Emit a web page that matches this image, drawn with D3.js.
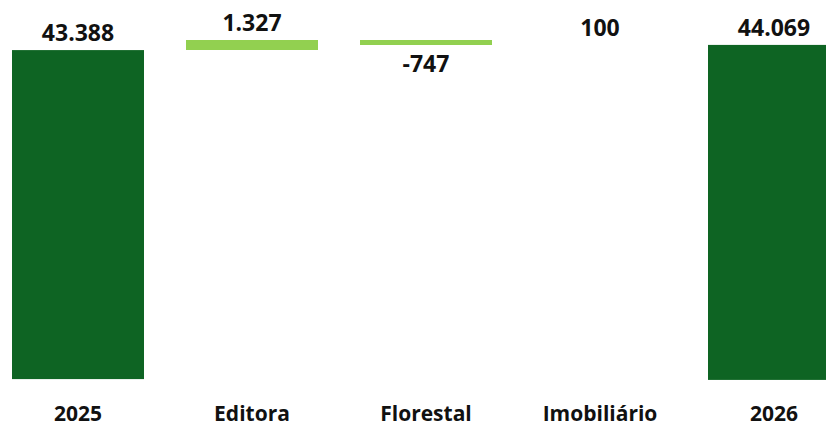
<!DOCTYPE html>
<html>
<head>
<meta charset="utf-8">
<script src="https://cdn.jsdelivr.net/npm/d3@7"></script>
<style>
  body { margin: 0; background: #fff; }
  text { font-family: "Open Sans", "Noto Sans", sans-serif; font-weight: 700; fill: #111; }
</style>
</head>
<body>
<div id="chart"></div>
<script>
// waterfall data
const categories = ['2025', 'Editora', 'Florestal', 'Imobiliário', '2026'];
const values = [43388, 1327, -747, 100, 44069];
const valueLabels = ['43.388', '1.327', '-747', '100', '44.069'];
const isTotal = [true, false, false, false, true];

const width = 826, height = 427;
const darkGreen = '#0e6423';
const lightGreen = '#92d050';

// build start/end of each step
let running = 0;
const steps = categories.map((c, i) => {
    let start, end;
    if (isTotal[i]) {
        start = 0; end = values[i]; running = values[i];
    } else {
        start = running; end = running + values[i]; running = end;
    }
    return { cat: c, start: start, end: end, value: values[i], label: valueLabels[i], total: isTotal[i] };
});

const svg = d3.select('#chart').append('svg')
    .attr('width', width)
    .attr('height', height);

const x = d3.scaleBand()
    .domain(categories)
    .range([-9, 861])
    .paddingInner(42 / 174)
    .paddingOuter(21 / 174);

const yMax = d3.max(steps, d => Math.max(d.start, d.end));
const y = d3.scaleLinear()
    .domain([0, yMax])
    .range([380, 40]);

// bars (sub-pixel steps vanish, like the original)
svg.selectAll('.bar')
    .data(steps)
    .enter()
    .append('rect')
    .attr('class', 'bar')
    .attr('x', d => x(d.cat))
    .attr('width', x.bandwidth())
    .attr('y', d => y(Math.max(d.start, d.end)))
    .attr('height', d => Math.floor(Math.abs(y(d.start) - y(d.end))))
    .attr('fill', d => d.total ? darkGreen : lightGreen);

// value labels
svg.selectAll('.value-label')
    .data(steps)
    .enter()
    .append('text')
    .attr('class', 'value-label')
    .attr('x', d => x(d.cat) + x.bandwidth() / 2)
    .attr('y', d => d.value < 0 ? y(Math.min(d.start, d.end)) + 26 : y(Math.max(d.start, d.end)) - 9)
    .attr('text-anchor', 'middle')
    .style('font-size', '23px')
    .text(d => d.label);

// category labels
svg.selectAll('.cat-label')
    .data(categories)
    .enter()
    .append('text')
    .attr('class', 'cat-label')
    .attr('x', d => x(d) + x.bandwidth() / 2)
    .attr('y', 421)
    .attr('text-anchor', 'middle')
    .style('font-size', '21px')
    .text(d => d);
</script>
</body>
</html>
